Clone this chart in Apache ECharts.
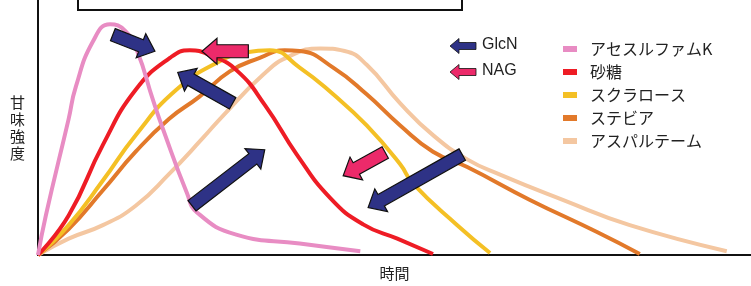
<!DOCTYPE html>
<html>
<head>
<meta charset="utf-8">
<script src="https://cdn.jsdelivr.net/npm/echarts@6/dist/echarts.min.js"></script>
<style>
  html, body { margin: 0; padding: 0; background: #fff; }
  #main { width: 751px; height: 286px; }
</style>
</head>
<body>
<div id="main"></div>
<script>
// 時間 (0-100) / 甘味強度 (0-100)
const seriesNames = ['アセスルファムK', '砂糖', 'スクラロース', 'ステビア', 'アスパルテーム'];
const seriesColors = ['#e88cc3', '#ee1c25', '#f4c025', '#e2792a', '#f4c7a1'];

const acesulfameK = [[0, 0], [1.1, 15.5], [4.3, 53.4], [5.3, 65.9], [7.7, 83.7], [10.1, 90.5], [12.2, 88], [13.9, 80], [16.1, 61], [17.5, 49.6], [20.9, 24.2], [22.3, 16.7], [27.8, 8], [36.7, 4.5], [45.2, 1.5]];
const sugar = [[0, 0], [4.3, 15.5], [9.1, 43.2], [13.7, 64.8], [18.5, 77.3], [21.3, 80.3], [24.1, 78.4], [27.9, 72.3], [31.9, 58.5], [36.3, 39.4], [41, 22.3], [45.6, 12], [50.4, 6.4], [55.4, 0.4]];
const sucralose = [[0, 0], [4.3, 11.7], [9.1, 29.2], [13.7, 47], [19.4, 64.8], [25.5, 76], [29.3, 79.5], [32.5, 80.3], [36.7, 73.5], [41.4, 63], [46.1, 50.8], [50.8, 35.6], [52.6, 28], [58.8, 11.7], [63.4, 0.8]];
const stevia = [[0, 0], [4.3, 10.2], [9.1, 25.4], [13.7, 40.5], [18.4, 53.4], [22.6, 62], [26.9, 72], [31.1, 77.3], [34.6, 80.3], [36.7, 80], [41.4, 73.5], [46.1, 63], [50.8, 50.8], [55.4, 40.5], [60.2, 34.5], [69, 21.6], [78.4, 9], [84.4, 0.4]];
const aspartame = [[0, 0], [4.3, 6.4], [9.1, 11.7], [13.7, 19.3], [18.4, 31.8], [23.1, 45.8], [25.9, 54.5], [31.6, 70.8], [35.3, 78], [39.6, 81], [43, 80], [46.1, 74.6], [50.8, 59.5], [55.4, 47], [60.2, 37.5], [64.8, 31.5], [73.6, 21.6], [83, 11.7], [96.6, 1.5]];

// 矢印 [尾, 先] (データ座標), 種類
const arrowTails = [[10.5, 86.4], [29.5, 79.9], [27.3, 59.5], [21.6, 19.3], [48.7, 40.2], [59.5, 39.4]];
const arrowHeads = [[16.4, 79.9], [23.0, 79.9], [19.6, 71.6], [31.8, 41.3], [42.8, 31.1], [46.3, 18.6]];
const arrowKinds = ['GlcN', 'NAG', 'GlcN', 'GlcN', 'NAG', 'GlcN'];

const arrowFill = { GlcN: '#2e3286', NAG: '#ec2a6a' };

const chart = echarts.init(document.getElementById('main'));
const jp = 'Noto Sans CJK JP';

function arrowPoints(p0, p1, w, h, L) {
  const dx = p1[0] - p0[0], dy = p1[1] - p0[1];
  const len = Math.sqrt(dx * dx + dy * dy);
  const ux = dx / len, uy = dy / len;
  const nx = -uy, ny = ux;
  const bx = p1[0] - ux * L, by = p1[1] - uy * L;
  return [
    [p0[0] + nx * w, p0[1] + ny * w],
    [bx + nx * w, by + ny * w],
    [bx + nx * h, by + ny * h],
    [p1[0], p1[1]],
    [bx - nx * h, by - ny * h],
    [bx - nx * w, by - ny * w],
    [p0[0] - nx * w, p0[1] - ny * w]
  ];
}

const allData = [acesulfameK, sugar, sucralose, stevia, aspartame];

chart.setOption({
  animation: false,
  grid: { left: 38, right: 0, top: 0, bottom: 22 },
  xAxis: {
    type: 'value', min: 0, max: 100,
    name: '時間', nameLocation: 'middle', nameGap: 11,
    nameTextStyle: { fontFamily: jp, fontSize: 15, color: '#222' },
    axisLine: { show: true, onZero: false, lineStyle: { color: '#111', width: 2 } },
    axisTick: { show: false }, axisLabel: { show: false }, splitLine: { show: false }
  },
  yAxis: {
    type: 'value', min: 0, max: 100,
    name: '甘\n味\n強\n度', nameLocation: 'middle', nameGap: 13, nameRotate: 0,
    nameTextStyle: { fontFamily: jp, fontSize: 15, lineHeight: 17, color: '#222', padding: [4, 0, 0, 0] },
    axisLine: { show: true, lineStyle: { color: '#111', width: 2 } },
    axisTick: { show: false }, axisLabel: { show: false }, splitLine: { show: false }
  },
  legend: {
    orient: 'vertical', left: 558, top: 36,
    icon: 'rect', itemWidth: 14, itemHeight: 6, itemGap: 7,
    textStyle: { fontFamily: jp, fontSize: 16, color: '#222', padding: [0, 0, 0, 8] },
    data: seriesNames
  },
  series: seriesNames.map((name, i) => ({
    name: name, type: 'line', data: allData[i],
    smooth: 0.5, showSymbol: false, clip: false,
    color: seriesColors[i],
    lineStyle: { width: 4, color: seriesColors[i] },
    z: 2 + (4 - i)
  }))
});

// 矢印と GlcN / NAG 凡例
const elements = [];
arrowTails.forEach((t, i) => {
  const p0 = chart.convertToPixel({ gridIndex: 0 }, t);
  const p1 = chart.convertToPixel({ gridIndex: 0 }, arrowHeads[i]);
  elements.push({
    type: 'polygon', z: 100,
    shape: { points: arrowPoints(p0, p1, 6.5, 13, 15) },
    style: { fill: arrowFill[arrowKinds[i]], stroke: '#111', lineWidth: 1.2 }
  });
});
['GlcN', 'NAG'].forEach((k, i) => {
  const y = 46 + i * 26;
  elements.push({
    type: 'polygon', z: 100,
    shape: { points: arrowPoints([476, y], [450, y], 3.5, 7.5, 9) },
    style: { fill: arrowFill[k], stroke: '#111', lineWidth: 0.8 }
  });
  elements.push({
    type: 'text', z: 100, left: 482, top: y - 9,
    style: { text: k, fontFamily: 'Liberation Sans', fontSize: 16, fill: '#222' }
  });
});
// 上部のタイトル枠 (画像上端で切れている)
elements.push({
  type: 'rect', z: 100,
  shape: { x: 78, y: -10, width: 384, height: 20 },
  style: { fill: '#fff', stroke: '#111', lineWidth: 2 }
});
chart.setOption({ graphic: { elements: elements } });
</script>
</body>
</html>
